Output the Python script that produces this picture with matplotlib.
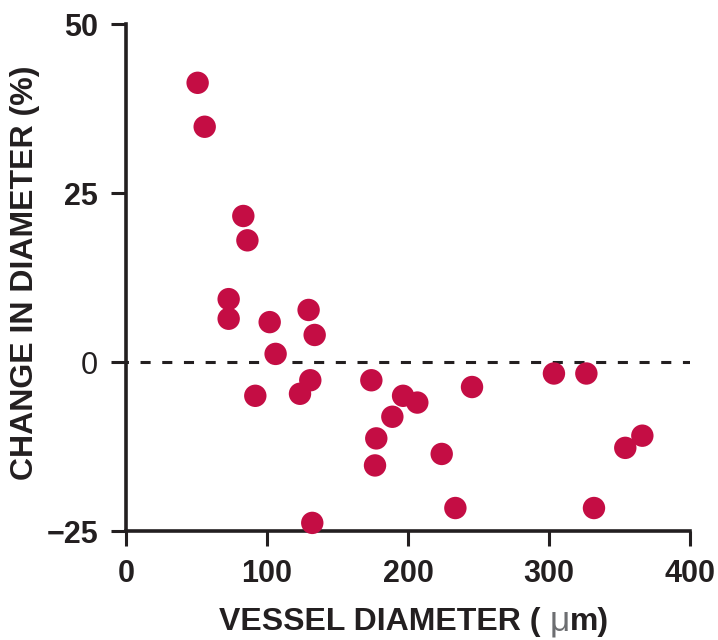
import matplotlib
matplotlib.use("Agg")
import matplotlib.pyplot as plt
from matplotlib.offsetbox import TextArea, HPacker, AnchoredOffsetbox

plt.rcParams['font.family'] = ['Liberation Sans', 'DejaVu Sans']

# vessel diameter (um) vs change in diameter (%)
diameter = [50.8, 55.8, 83.2, 86.1, 72.8, 72.8, 101.9, 106.1, 129.5, 133.8,
            91.7, 123.4, 130.7, 132.1, 174.0, 196.5, 206.6, 188.9, 177.5, 176.6,
            223.9, 233.6, 245.4, 303.5, 326.5, 331.9, 354.1, 366.2]
change = [41.3, 34.8, 21.6, 18.0, 9.3, 6.4, 5.9, 1.2, 7.7, 4.0,
          -5.0, -4.7, -2.7, -23.8, -2.7, -5.0, -6.0, -8.1, -11.3, -15.3,
          -13.6, -21.6, -3.7, -1.7, -1.7, -21.6, -12.7, -10.9]

xticks = [0, 100, 200, 300, 400]
yticks = [-25, 0, 25, 50]

dot_color = '#C40D44'
ink = '#231F20'

fig = plt.figure(figsize=(7.18, 6.4), dpi=100)
ax = fig.add_axes([0.1755, 0.1703, 0.7855, 0.7922])

ax.axhline(0, color=ink, lw=2.2, ls=(2.5, (3.3, 3.8)), zorder=1)
ax.scatter(diameter, change, s=260, color=dot_color, edgecolors='none', zorder=3, clip_on=False)

ax.set_xlim(0, 400)
ax.set_ylim(-25, 50)
ax.set_xticks(xticks)
ax.set_yticks(yticks)
ax.set_xticklabels([str(v) for v in xticks], fontsize=22, fontweight='bold', color=ink)
ax.set_yticklabels(['\u221225', '0', '25', '50'], fontsize=22, fontweight='bold', color=ink)
# the zero label is set in regular weight
ax.get_yticklabels()[1].set_fontweight('normal')

for side in ['top', 'right']:
    ax.spines[side].set_visible(False)
for side in ['left', 'bottom']:
    ax.spines[side].set_linewidth(2.6)
    ax.spines[side].set_color(ink)
ax.tick_params(direction='out', length=11, width=2.2, color=ink, pad=9)

ax.set_ylabel('CHANGE IN DIAMETER (%)', fontsize=23, fontweight='bold', color=ink)
ax.yaxis.set_label_coords(-0.152, 0.51)

# x label with a grey, light mu
parts = [TextArea('VESSEL DIAMETER ( ', textprops=dict(fontsize=23, fontweight='bold', color=ink)),
         TextArea('\u03bc', textprops=dict(fontsize=25.5, color='#6D6E71')),
         TextArea('m)', textprops=dict(fontsize=23, fontweight='bold', color=ink))]
box = HPacker(children=parts, align='baseline', pad=0, sep=0)
anchored = AnchoredOffsetbox(loc='center', child=box, pad=0, frameon=False,
                             bbox_to_anchor=(0.5764, 0.03), bbox_transform=fig.transFigure,
                             borderpad=0)
fig.add_artist(anchored)

fig.savefig('out.png', dpi=100)
